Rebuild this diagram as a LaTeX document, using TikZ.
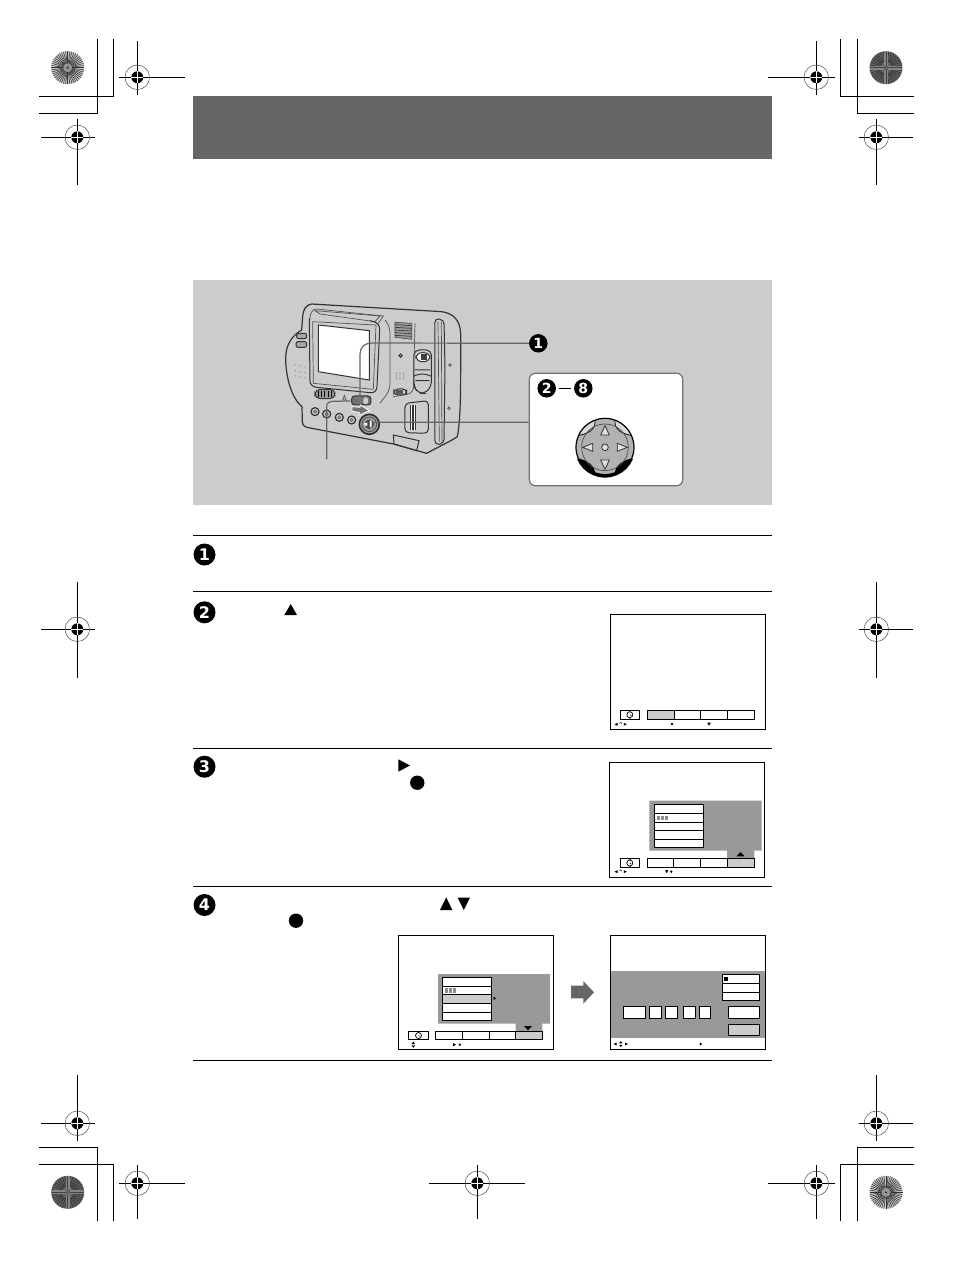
\documentclass[tikz,border=0pt]{standalone}
\usepackage{fontspec}
\setmainfont{Liberation Sans}
\newfontfamily\badgefont{DejaVu Sans Bold}
\tikzset{
 x=1pt,y=-1pt,
 rule/.style={line width=1pt,black},
 crop/.style={line width=1pt,black},
 badge/.style={circle,fill=black,text=white,inner sep=0pt},
 screen/.style={draw=black,line width=1pt,fill=white},
 cell/.style={draw=black,line width=.9pt,fill=white},
 leader/.style={draw=black!60,line width=1.2pt},
 cam/.style={draw=black!68,line width=.7pt},
 camd/.style={draw=black!80,line width=1pt},
}
\newcommand{\regmark}[7]{% x y x0 x1 y0 y1 name
 \draw[crop] (#3,#2) -- (#4,#2);
 \draw[crop] (#1,#5) -- (#1,#6);
 \node[circle,draw=black!70,line width=.5pt,minimum size=24.5pt,inner sep=0pt] (#7) at (#1,#2) {};
 \fill[black] (#1,#2) circle (6pt);
 \draw[white,line width=.5pt] (#1-6,#2) -- (#1+6,#2) (#1,#2-6) -- (#1,#2+6);
}
\newcommand{\burstA}[2]{%
 \fill[black!22] (#1,#2) circle (16.5pt);
 \foreach \a in {0,7.5,...,352.5}
  \draw[black!80,line width=.55pt] (#1,#2) ++(\a:4pt) -- ++(\a:12.5pt);
 \fill[black!42] (#1,#2) circle (4.5pt);
 \fill[black] (#1,#2) circle (.9pt);
}
\newcommand{\clockicon}[2]{%
 \draw[black,line width=.7pt] (#1,#2) circle (3pt);
 \draw[black,line width=.5pt] (#1,#2) -- (#1+1.5,#2+1) (#1-1,#2-3.5) -- (#1+1,#2-3.5) (#1-1,#2+3.5) -- (#1+1,#2+3.5);
}
\newcommand{\burstB}[2]{%
 \fill[black!62] (#1,#2) circle (16.5pt);
 \foreach \a in {0,10,...,350}
  \draw[black!82,line width=.6pt] (#1,#2) ++(\a:6pt) -- ++(\a:10pt);
 \foreach \a in {0,90,180,270}
  \draw[black!48,line width=4pt] (#1,#2) ++(\a:2pt) -- ++(\a:14pt);
 \foreach \a in {0,90,180,270}
  \draw[black!75,line width=.6pt] (#1,#2) ++(\a:2pt) -- ++(\a:14pt);
}
\begin{document}
\begin{tikzpicture}
\useasboundingbox (0,0) rectangle (954,1261);
\fill[white] (0,0) rectangle (954,1261);
% banner and panel
\fill[black!60] (193,96) rectangle (772,159);
\fill[black!20] (193,280) rectangle (772,505);
% rules
\foreach \y in {535.3,591.3,748,886.3,1060.3} \draw[rule] (193,\y) -- (772,\y);
% crop marks
\draw[crop] (97,39) -- (97,113) -- (39,113);
\draw[crop] (113,39) -- (113,96) -- (39,96);
\draw[crop] (840.5,39) -- (840.5,96) -- (914,96);
\draw[crop] (857,39) -- (857,113) -- (914,113);
\draw[crop] (39,1147.3) -- (97,1147.3) -- (97,1221);
\draw[crop] (39,1164.3) -- (113,1164.3) -- (113,1221);
\draw[crop] (914,1147.3) -- (857,1147.3) -- (857,1221);
\draw[crop] (914,1164.3) -- (840.5,1164.3) -- (840.5,1221);
\regmark{77.3}{137.3}{41}{95}{119}{185}{r1}
\regmark{137.3}{77.3}{119}{185}{41}{95}{r2}
\regmark{816.3}{77.3}{768}{835}{41}{95}{r3}
\regmark{876.3}{137.3}{859}{913}{119}{185}{r4}
\regmark{77.3}{629.3}{41}{95}{582}{678}{r5}
\regmark{876.3}{629.3}{859}{913}{582}{678}{r6}
\regmark{77.3}{1123.3}{41}{95}{1075}{1141}{r7}
\regmark{137.3}{1183.3}{119}{185}{1165}{1219}{r8}
\regmark{477.3}{1183.3}{429}{525}{1165}{1219}{r9}
\regmark{816.3}{1183.3}{768}{835}{1165}{1219}{r10}
\regmark{876.3}{1123.3}{859}{913}{1075}{1141}{r11}
\burstA{67.7}{67.7}
\burstB{886}{67.7}
\burstB{67.7}{1192.3}
\burstA{886}{1192.3}
% camera, in 3x crop coordinates
\begin{scope}[shift={(270,290)},x=.3333pt,y=-.3333pt]
 \draw[camd,fill=black!20,line width=1.2pt] (125,42) -- (515,65) .. controls (550,70) and (570,90) .. (572,130)
   -- (572,250) .. controls (572,330) and (570,400) .. (562,440) .. controls (540,455) and (510,468) .. (470,490) -- (370,462) -- (110,412) .. controls (102,410) and (98,405) .. (97,395)
   -- (96,350) .. controls (60,320) and (47,250) .. (47,205) .. controls (47,160) and (70,135) .. (95,120)
   -- (98,80) .. controls (100,55) and (110,44) .. (125,42) -- cycle;
 % hood
 \draw[cam] (120,90) .. controls (120,70) and (125,58) .. (140,57) -- (340,78) -- (325,100);
 \draw[cam] (135,62) -- (330,78) -- (315,95) -- (150,72) -- cycle;
 % lcd frame
 \draw[camd,rounded corners=6pt] (118,85) -- (120,290) -- (320,310) -- (330,100) -- (300,92);
 \draw[cam] (128,95) -- (130,280) -- (310,298) -- (318,105) -- cycle;
 \draw[camd,fill=white] (145,105) -- (298,122) -- (298,270) -- (145,245) -- cycle;
 % grip buttons
 \draw[camd,fill=black!35,rounded corners=2pt] (80,130) rectangle (110,146);
 \draw[camd,fill=black!35,rounded corners=2pt] (78,155) rectangle (110,172);
 \foreach \px/\py in {75/225,90/228,105/231,75/242,90/245,105/248,75/258,90/261,105/264}
  \fill[black!70] (\px,\py) circle (1.5);
 % speaker
 \draw[cam,fill=black!40] (375,97) -- (425,100) -- (425,148) -- (375,142) -- cycle;
 \foreach \k in {104,112,120,128,136} \draw[black!80,line width=.6pt] (375,\k) -- (425,\k+3);
 \draw[cam,rounded corners=6pt] (345,90) -- (360,110) -- (360,300) -- (330,340);
 \draw[cam,rounded corners=6pt] (435,100) -- (430,310) -- (370,320);
 \draw[camd] (392,197) circle (5);
 \foreach \px in {380,390,400} \foreach \py in {250,258,266} \fill[black!70] (\px,\py) circle (1.5);
 % switch column
 \draw[camd,fill=black!20,rounded corners=5pt] (432,180) -- (484,180) -- (484,290) -- (465,310) -- (445,310) -- (432,290) -- cycle;
 \draw[camd,fill=white,rounded corners=6pt] (438,188) rectangle (480,215);
 \fill[black!75] (452,192) rectangle (472,210);
 \draw[camd] (435,240) -- (480,240) (432,258) .. controls (450,250) and (465,250) .. (482,258) (436,272) -- (478,272);
 \draw[camd,fill=black!20,rounded corners=4pt] (372,297) rectangle (410,315);
 \fill[black!65] (378,300) rectangle (398,312);
 % strap rail
 \draw[camd,rounded corners=4pt] (495,85) -- (522,90) -- (525,230) -- (522,460) -- (495,465) -- cycle;
 \draw[cam] (504,95) -- (508,455) (514,95) -- (516,455);
 \draw[cam] (540,225) circle (4) (537,355) circle (4);
 % card door
 \draw[camd,rounded corners=4pt] (405,340) -- (475,332) -- (475,430) -- (405,428) -- cycle;
 \fill[black!80] (420,345) rectangle (438,420);
 \draw[white,line width=.6pt] (425,345) -- (425,420) (432,345) -- (432,420);
 \draw[camd] (370,435) -- (372,462) -- (440,482) -- (447,452) -- cycle;
 % slide control
 \draw[camd,fill=black!40,rounded corners=5pt] (135,298) rectangle (195,326);
 \foreach \k in {145,155,165,175,185} \draw[black,line width=1pt] (\k,302) -- (\k,322);
 \draw[black!70,line width=.7pt] (218,330) -- (223,316) -- (228,330) -- cycle;
 % menu button
 \draw[camd,fill=black!55,rounded corners=3pt] (245,318) rectangle (303,345);
 \fill[black!20,rounded corners=2pt] (280,322) rectangle (294,342);
 % buttons
 \foreach \px/\py in {135/365,170/372,208/382,245/390} {
  \draw[camd,fill=black!20,line width=1.2pt] (\px,\py) circle (12);
  \fill[black!50] (\px,\py) circle (6);
 }
 % dial
 \draw[black!85,fill=black!40,line width=1.5pt] (298,403) circle (30);
 \draw[black!70,line width=.7pt] (298,403) circle (22);
 \fill[black!70] (298,403) circle (14);
 \fill[white] (283,399) rectangle (292,407) (300,392) rectangle (305,412);
 % pointer arrow
 \draw[white,fill=black!55,line width=.8pt] (246,350) -- (270,352) -- (271,345) -- (298,362) -- (268,375) -- (268,367) -- (246,364) -- cycle;
 % leaders on the camera
 \coordinate (lab0) at (170,508);
 \coordinate (lab1) at (240,333);
 \draw[leader] (lab0) -- (170,350) .. controls (170,338) and (178,335) .. (188,334) -- (lab1);
 \coordinate (c1) at (270,320);
 \coordinate (c2) at (310,397);
\end{scope}
% callout
\node[badge,minimum size=18.5pt,font=\badgefont\fontsize{14}{14}\selectfont] (b1top) at (538.3,343.3) {1};
\node[draw=black!55,line width=1.2pt,fill=white,rounded corners=6pt,minimum width=153.4pt,minimum height=112.4pt,inner sep=0pt] (call) at (606,429.5) {};
\node[badge,minimum size=18.5pt,font=\badgefont\fontsize{14}{14}\selectfont] (b2top) at (546.7,388.3) {2};
\node[badge,minimum size=18.5pt,font=\badgefont\fontsize{14}{14}\selectfont] (b8top) at (583.3,388.3) {8};
\draw[line width=1.6pt,black,shorten >=3pt,shorten <=3pt] (b2top) -- (b8top);
\draw[leader] (b1top.west) -- (372,343) .. controls (365,343) and (360,347) .. (360,354) -- (c1);
\draw[leader] (call.west |- 0,422.3) -- (c2);
% dial detail
\begin{scope}[shift={(520,325)},x=.3333pt,y=-.3333pt]
 \fill[black!30] (255,367) circle (87);
 \begin{scope}
  \clip (255,367) circle (87);
  % dark lower corners
  \fill[black] (165,398) .. controls (205,405) and (222,422) .. (226,442) .. controls (245,449) and (265,449) .. (284,442) .. controls (288,422) and (305,405) .. (345,398) -- (345,480) -- (165,480) -- cycle;
  % light upper corners
  \fill[black!15] (225,275) -- (225,290) .. controls (225,315) and (205,328) .. (165,333) -- (165,275) -- cycle;
  \fill[black!15] (285,275) -- (285,290) .. controls (285,315) and (305,328) .. (345,333) -- (345,275) -- cycle;
  \draw[black,line width=.7pt] (225,275) -- (225,290) .. controls (225,315) and (205,328) .. (165,333);
  \draw[black,line width=.7pt] (285,275) -- (285,290) .. controls (285,315) and (305,328) .. (345,333);
 \end{scope}
 \draw[black,line width=1.2pt] (255,367) circle (87);
 \begin{scope}
  \clip (150,405) rectangle (360,470);
  \draw[black,line width=2.6pt] (255,367) circle (87);
 \end{scope}
 \draw[black!70,line width=.7pt] (255,367) circle (70);
 \draw[black!80,line width=.8pt,fill=black!12] (242,330) -- (255,302) -- (268,330) -- cycle;
 \draw[black!80,line width=.8pt,fill=black!12] (242,405) -- (255,433) -- (268,405) -- cycle;
 \draw[black!80,line width=.8pt,fill=black!12] (218,355) -- (188,367) -- (218,379) -- cycle;
 \draw[black!80,line width=.8pt,fill=black!12] (292,355) -- (322,367) -- (292,379) -- cycle;
 \draw[black!80,line width=.8pt,fill=black!12] (255,367) circle (10);
\end{scope}
% step badges and glyphs
\node[badge,minimum size=22pt,font=\badgefont\fontsize{16}{16}\selectfont] (s1) at (204.5,554.5) {1};
\node[badge,minimum size=22pt,font=\badgefont\fontsize{16}{16}\selectfont] (s2) at (204.5,612.3) {2};
\node[badge,minimum size=22pt,font=\badgefont\fontsize{16}{16}\selectfont] (s3) at (204.5,766.7) {3};
\node[badge,minimum size=22pt,font=\badgefont\fontsize{16}{16}\selectfont] (s4) at (204.5,905) {4};
\fill (284.3,615) -- (290.7,604) -- (297,615) -- cycle;
\fill (398.3,759.3) -- (410,765.5) -- (398.3,771.7) -- cycle;
\fill (417.3,782.7) circle (7.2pt);
\fill (440,910) -- (446.2,897.3) -- (452.3,910) -- cycle;
\fill (457.7,897.7) -- (470,897.7) -- (463.8,910) -- cycle;
\fill (296,920.7) circle (7.2pt);
% screen of step 2
\draw[screen] (610.3,614.7) rectangle (765.7,729.3);
\draw[cell] (620,710) rectangle (639.7,719.3);
\clockicon{629.8}{714.7}
\fill[black!20] (647.3,710) rectangle (674.3,719.3);
\draw[cell,fill=none] (647.3,710) rectangle (754.3,719.3);
\draw[cell] (674.3,710) -- (674.3,719.3) (700.7,710) -- (700.7,719.3) (727.3,710) -- (727.3,719.3);
\draw[black!80,line width=.6pt] (619.6,723.5) -- (620.7,722.3) -- (621.8,723.5);
\fill (614.5,724.3) -- (617.5,722.8) -- (617.5,725.8) -- cycle (623.8,722.8) -- (626.8,724.3) -- (623.8,725.8) -- cycle;
\fill (672,724) circle (1.3pt);
\fill (707.2,722.6) -- (710.8,722.6) -- (709,725.8) -- cycle;
% screen of step 3
\draw[screen] (609.7,762.7) rectangle (764.3,877.3);
\fill[black!40] (649.3,800.7) rectangle (761.7,850.7) (727,850.7) rectangle (754.3,858.3);
\fill (736.5,856.3) -- (744.5,856.3) -- (740.5,852) -- cycle;
\draw[cell] (654,804.3) rectangle (703.7,847.3);
\draw[cell] (654,813.3) -- (703.7,813.3) (654,822) -- (703.7,822) (654,830.3) -- (703.7,830.3) (654,839.3) -- (703.7,839.3);
\fill[black!45] (657,815.5) rectangle (668,820);
\draw[white,line width=.3pt] (660,815.5) -- (660,820) (664,815.5) -- (664,820);
\fill[black!20] (727.3,858.3) rectangle (754.3,867.7);
\draw[cell,fill=none] (647.3,858.3) rectangle (754.3,867.7);
\draw[cell] (673.3,858.3) -- (673.3,867.7) (700.3,858.3) -- (700.3,867.7) (727.3,858.3) -- (727.3,867.7);
\draw[cell] (620,858.3) rectangle (639.7,867.7);
\clockicon{629.8}{863}
\fill (614.5,871.7) -- (617.5,870.2) -- (617.5,873.2) -- cycle (623.8,870.2) -- (626.8,871.7) -- (623.8,873.2) -- cycle;
\draw[black!80,line width=.6pt] (619.6,871) -- (620.7,869.8) -- (621.8,871);
\fill (665,870.1) -- (668.4,870.1) -- (666.7,873.3) -- cycle;
\fill (671.3,871.7) circle (1.3pt);
% left screen of step 4
\draw[screen] (398,935.3) rectangle (553.3,1049.3);
\fill[black!40] (438,974) rectangle (550,1023.7) (515.7,1023.7) rectangle (542.3,1031.3);
\fill (524,1026) -- (532,1026) -- (528,1030) -- cycle;
\draw[cell] (442.3,977.3) rectangle (491.7,1020.3);
\fill[black!20] (442.3,994.7) rectangle (491.7,1003.7);
\draw[cell,fill=none] (442.3,977.3) rectangle (491.7,1020.3);
\draw[cell] (442.3,986) -- (491.7,986) (442.3,994.7) -- (491.7,994.7) (442.3,1003.7) -- (491.7,1003.7) (442.3,1012.3) -- (491.7,1012.3);
\fill[black!45] (445,988.3) rectangle (456,992.8);
\draw[white,line width=.3pt] (448,988.3) -- (448,992.8) (452,988.3) -- (452,992.8);
\fill (493.5,996.5) -- (496,998.3) -- (493.5,1000.1) -- cycle;
\fill[black!20] (515.7,1031.3) rectangle (542.3,1039.7);
\draw[cell,fill=none] (435,1031.3) rectangle (542.3,1039.7);
\draw[cell] (462.3,1031.3) -- (462.3,1039.7) (489.3,1031.3) -- (489.3,1039.7) (515.7,1031.3) -- (515.7,1039.7);
\draw[cell] (408.3,1031.3) rectangle (428.7,1039.7);
\clockicon{418.5}{1035.5}
\fill (411.6,1044) -- (415,1044) -- (413.3,1041.6) -- cycle (411.6,1045.4) -- (415,1045.4) -- (413.3,1047.8) -- cycle;
\fill (453,1043.1) -- (456,1044.7) -- (453,1046.3) -- cycle;
\fill (459.8,1044.7) circle (1.3pt);
% arrow between
\fill[black!60] (571,985.7) -- (583.3,985.7) -- (583.3,981) -- (594,992.3) -- (583.3,1003.7) -- (583.3,998.3) -- (571,998.3) -- cycle;
% right screen of step 4
\draw[screen] (610.7,935.3) rectangle (765.3,1049.3);
\fill[black!40] (611.2,971) rectangle (764.8,1037.7);
\draw[cell] (722.3,974.3) rectangle (759.7,1000.7);
\draw[cell] (722.3,983.3) -- (759.7,983.3) (722.3,992) -- (759.7,992);
\fill (724.3,977) rectangle (728.3,981);
\foreach \xa/\xb in {623.3/645.7,649.3/661.7,665.3/677,683.3/695.7,699.3/710.7,728.3/759.7}
 \draw[cell] (\xa,1006.3) rectangle (\xb,1018.7);
\draw[cell,fill=black!20] (728.3,1024.3) rectangle (759.7,1035.7);
\fill (613.6,1044) -- (616.6,1042.5) -- (616.6,1045.5) -- cycle (625,1042.5) -- (628,1044) -- (625,1045.5) -- cycle;
\fill (619.1,1043.4) -- (622.5,1043.4) -- (620.8,1041) -- cycle (619.1,1044.8) -- (622.5,1044.8) -- (620.8,1047.2) -- cycle;
\fill (700.7,1044) circle (1.3pt);
\end{tikzpicture}
\end{document}
